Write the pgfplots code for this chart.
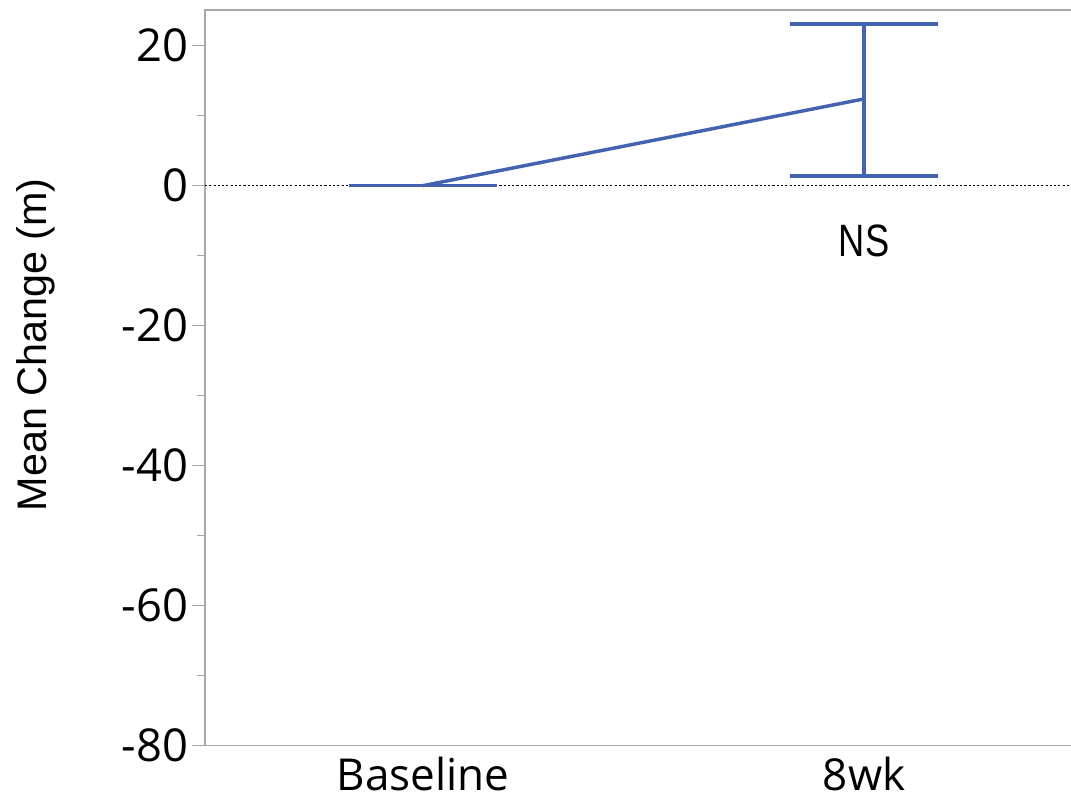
\documentclass[border=0pt]{standalone}
\usepackage{fontspec}
\setmainfont{Liberation Sans}
\newfontfamily\tickfont{Open Sans}
\usepackage{pgfplots}
\pgfplotsset{compat=1.18}
\definecolor{lineblue}{HTML}{4562B0}
\definecolor{axgray}{HTML}{A8A8A8}
\begin{document}
\begin{tikzpicture}
\begin{axis}[
  name=ax,
  scale only axis,
  width=649.5pt, height=551.7pt,
  xmin=-0.494, xmax=1.469,
  ymin=-80, ymax=25.1,
  xtick={0,1}, xticklabels={Baseline,8wk},
  ytick={-80,-60,-40,-20,0,20},
  minor ytick={-70,-50,-30,-10,10},
  /pgf/number format/assume math mode=true,
  ticklabel style={font=\tickfont\fontsize{34}{40}\selectfont},
  tick align=outside,
  ytick pos=left, xtick pos=bottom,
  major tick length=10pt, minor tick length=6pt,
  every tick/.style={axgray, line width=1pt},
  x tick style={draw=none},
  axis line style={draw=none},
  xticklabel style={anchor=north, yshift=5pt, font=\tickfont\fontsize{33}{38}\selectfont},
  yticklabel style={anchor=east, xshift=1pt},
  ylabel={Mean Change (m)},
  ylabel style={font=\fontsize{31}{36}\selectfont, at={(axis description cs:-0.195,0.545)}, anchor=center, rotate=0},
  clip=false,
]
\draw[axgray, line width=1.2pt] (rel axis cs:1,1) -- (rel axis cs:0,1) -- (rel axis cs:0,0) -- (rel axis cs:1,0);
\addplot[black, line width=1pt, dash pattern=on 1.6pt off 1.6pt, forget plot] coordinates {(-0.494,0) (1.469,0)};
\addplot[lineblue, line width=2.6pt, mark=none,
  error bars/.cd, y dir=both, y explicit,
  error bar style={lineblue, line width=2.6pt},
  error mark options={rotate=90, mark size=55.5pt, line width=2.6pt, lineblue}]
  coordinates {
    (0,0) +- (0,0)
    (1,12.4) += (0,10.7) -= (0,11.0)
  };
\node[font=\fontsize{34}{40}\selectfont] at (axis cs:1,-7.9) {\scalebox{0.8}[1]{NS}};
\end{axis}
\pgfresetboundingbox
\path[use as bounding box] ([xshift=-153.75pt,yshift=-42.3pt]ax.south west) rectangle ([yshift=7.5pt]ax.north east);
\end{tikzpicture}
\end{document}
